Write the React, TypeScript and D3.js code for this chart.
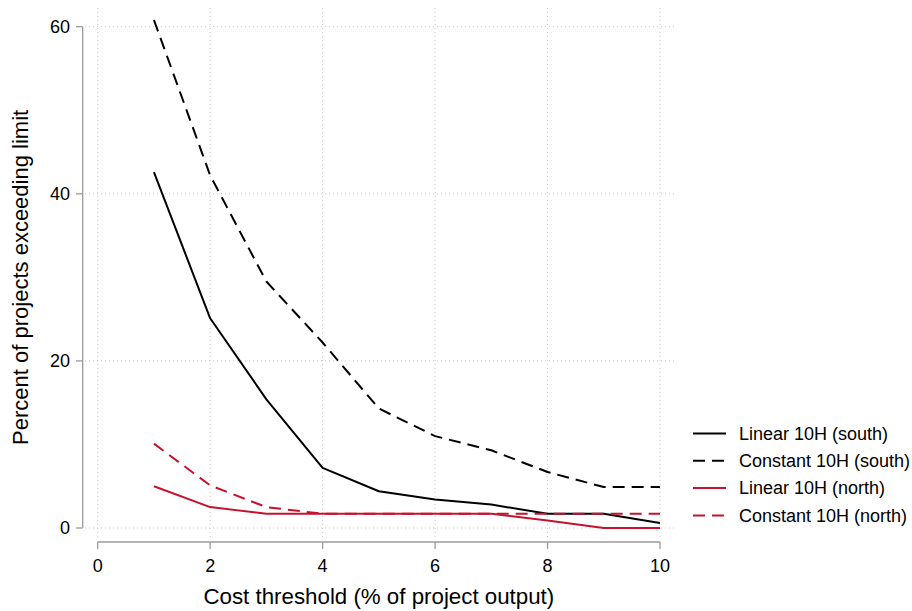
import * as d3 from 'd3';
import * as React from 'react';

const thresholds = [1, 2, 3, 4, 5, 6, 7, 8, 9, 10];
const linearSouth = [42.6, 25.1, 15.4, 7.2, 4.4, 3.4, 2.8, 1.7, 1.7, 0.6];
const constantSouth = [60.8, 42.2, 29.5, 22.2, 14.3, 11.0, 9.3, 6.7, 4.9, 4.9];
const linearNorth = [5.0, 2.5, 1.7, 1.7, 1.7, 1.7, 1.7, 0.9, 0, 0];
const constantNorth = [10.1, 5.1, 2.5, 1.7, 1.7, 1.7, 1.7, 1.7, 1.7, 1.7];
const xTicks = [0, 2, 4, 6, 8, 10];
const yTicks = [0, 20, 40, 60];

const seriesList = [
  { name: 'Linear 10H (south)', values: linearSouth, color: '#000000', dash: null },
  { name: 'Constant 10H (south)', values: constantSouth, color: '#000000', dash: '12,7' },
  { name: 'Linear 10H (north)', values: linearNorth, color: '#c4122f', dash: null },
  { name: 'Constant 10H (north)', values: constantNorth, color: '#c4122f', dash: '12,7' },
];

const font = '"Liberation Sans", Arial, Helvetica, sans-serif';

const App = () => {
  const width = 912;
  const height = 611;

  const x = d3.scaleLinear().domain([0, 10]).range([97.7, 660]);
  const y = d3.scaleLinear().domain([0, 60]).range([528, 26.7]);

  const line = (vals: number[]) =>
    d3
      .line<number>()
      .x((_, i) => x(thresholds[i]))
      .y((d) => y(d))(vals) || '';

  const gridColor = '#c8c8c8';
  const axisColor = '#9a9a9a';

  return (
    <svg width={width} height={height} style={{ display: 'block', position: 'absolute', left: 0, top: 0, background: '#fff' }}>
      {/* grid */}
      {xTicks.map((t) => (
        <line key={'gx' + t} x1={x(t)} x2={x(t)} y1={8} y2={537} stroke={gridColor} strokeWidth={1} strokeDasharray="1,3" />
      ))}
      {yTicks.map((t) => (
        <line key={'gy' + t} x1={85} x2={675} y1={y(t)} y2={y(t)} stroke={gridColor} strokeWidth={1} strokeDasharray="1,3" />
      ))}

      {/* y axis */}
      <line x1={82.7} x2={82.7} y1={y(0)} y2={y(60)} stroke={axisColor} strokeWidth={1.3} />
      {yTicks.map((t) => (
        <g key={'yt' + t}>
          <line x1={76} x2={82.7} y1={y(t)} y2={y(t)} stroke={axisColor} strokeWidth={1.3} />
          <text x={70} y={y(t)} dy="0.35em" textAnchor="end" fontFamily={font} fontSize={18} fill="#000">
            {t}
          </text>
        </g>
      ))}
      <text
        transform={`translate(28,${(y(0) + y(60)) / 2}) rotate(-90)`}
        textAnchor="middle"
        fontFamily={font}
        fontSize={22}
        fill="#000"
      >
        Percent of projects exceeding limit
      </text>

      {/* x axis */}
      <line x1={x(0)} x2={x(10)} y1={542} y2={542} stroke={axisColor} strokeWidth={1.3} />
      {xTicks.map((t) => (
        <g key={'xt' + t}>
          <line x1={x(t)} x2={x(t)} y1={542} y2={549} stroke={axisColor} strokeWidth={1.3} />
          <text x={x(t)} y={572} textAnchor="middle" fontFamily={font} fontSize={18} fill="#000">
            {t}
          </text>
        </g>
      ))}
      <text x={(x(0) + x(10)) / 2} y={604} textAnchor="middle" fontFamily={font} fontSize={22.3} fill="#000">
        Cost threshold (% of project output)
      </text>

      {/* series */}
      {seriesList.map((s) => (
        <path
          key={s.name}
          d={line(s.values)}
          fill="none"
          stroke={s.color}
          strokeWidth={2}
          strokeDasharray={s.dash || undefined}
          strokeLinejoin="round"
        />
      ))}

      {/* legend */}
      {seriesList.map((s, i) => {
        const ly = 433.5 + i * 27.3;
        return (
          <g key={'lg' + s.name}>
            <line x1={693} x2={726} y1={ly} y2={ly} stroke={s.color} strokeWidth={2} strokeDasharray={s.dash || undefined} />
            <text x={739} y={ly} dy="0.35em" fontFamily={font} fontSize={18} fill="#000">
              {s.name}
            </text>
          </g>
        );
      })}
    </svg>
  );
};

export default App;
